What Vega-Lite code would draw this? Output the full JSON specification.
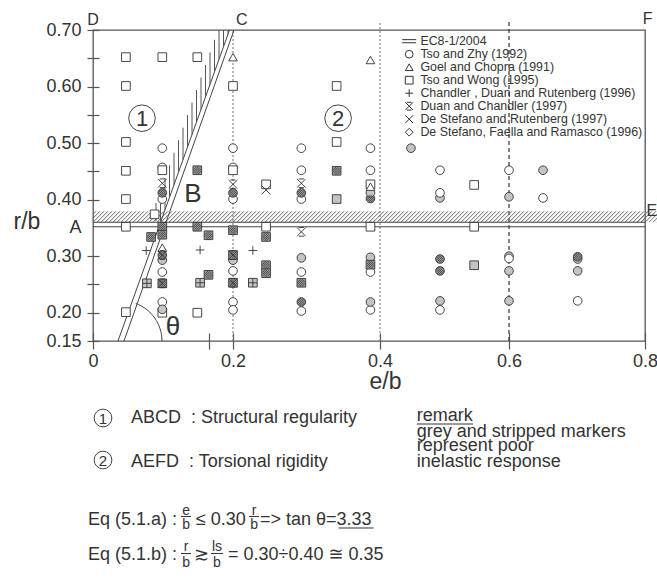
{
  "$schema": "https://vega.github.io/schema/vega-lite/v6.json",
  "width": 552,
  "height": 311,
  "autosize": {"type": "none"},
  "padding": {"left": 93, "top": 30, "right": 12, "bottom": 238},
  "background": "white",
  "config": {
    "view": {"stroke": "#555", "strokeWidth": 1.3},
    "text": {"font": "Liberation Sans", "color": "#333"}
  },
  "datasets": {
    "pts": [
      {"e":0.047,"r":0.652,"s":"TW","f":"o"},
      {"e":0.047,"r":0.601,"s":"TW","f":"o"},
      {"e":0.047,"r":0.502,"s":"TW","f":"o"},
      {"e":0.047,"r":0.451,"s":"TW","f":"o"},
      {"e":0.047,"r":0.401,"s":"TW","f":"o"},
      {"e":0.047,"r":0.352,"s":"TW","f":"o"},
      {"e":0.047,"r":0.201,"s":"TW","f":"o"},
      {"e":0.088,"r":0.374,"s":"TW","f":"o"},
      {"e":0.083,"r":0.334,"s":"TW","f":"h"},
      {"e":0.076,"r":0.31,"s":"CDR","f":"o"},
      {"e":0.077,"r":0.252,"s":"TW","f":"g"},
      {"e":0.077,"r":0.252,"s":"CDR","f":"o"},
      {"e":0.099,"r":0.652,"s":"TW","f":"o"},
      {"e":0.099,"r":0.491,"s":"TZ","f":"o"},
      {"e":0.099,"r":0.457,"s":"TZ","f":"o"},
      {"e":0.099,"r":0.452,"s":"TW","f":"o"},
      {"e":0.099,"r":0.429,"s":"DC","f":"o"},
      {"e":0.099,"r":0.401,"s":"TZ","f":"o"},
      {"e":0.099,"r":0.412,"s":"TZ","f":"h"},
      {"e":0.099,"r":0.352,"s":"TW","f":"h"},
      {"e":0.099,"r":0.338,"s":"TW","f":"h"},
      {"e":0.099,"r":0.315,"s":"GC","f":"o"},
      {"e":0.099,"r":0.293,"s":"TZ","f":"g"},
      {"e":0.099,"r":0.302,"s":"TZ","f":"h"},
      {"e":0.099,"r":0.302,"s":"DC","f":"o"},
      {"e":0.099,"r":0.272,"s":"TZ","f":"o"},
      {"e":0.099,"r":0.252,"s":"TW","f":"h"},
      {"e":0.099,"r":0.252,"s":"DC","f":"o"},
      {"e":0.099,"r":0.219,"s":"TZ","f":"o"},
      {"e":0.099,"r":0.2,"s":"TW","f":"o"},
      {"e":0.099,"r":0.206,"s":"TZ","f":"g"},
      {"e":0.149,"r":0.652,"s":"TW","f":"o"},
      {"e":0.149,"r":0.452,"s":"TW","f":"h"},
      {"e":0.149,"r":0.352,"s":"TW","f":"h"},
      {"e":0.165,"r":0.337,"s":"TW","f":"h"},
      {"e":0.153,"r":0.311,"s":"CDR","f":"o"},
      {"e":0.165,"r":0.267,"s":"TW","f":"h"},
      {"e":0.153,"r":0.253,"s":"TW","f":"g"},
      {"e":0.153,"r":0.253,"s":"CDR","f":"o"},
      {"e":0.149,"r":0.2,"s":"TW","f":"o"},
      {"e":0.2,"r":0.652,"s":"GC","f":"o"},
      {"e":0.2,"r":0.601,"s":"TW","f":"o"},
      {"e":0.2,"r":0.491,"s":"TZ","f":"o"},
      {"e":0.2,"r":0.457,"s":"TZ","f":"o"},
      {"e":0.2,"r":0.452,"s":"TW","f":"o"},
      {"e":0.2,"r":0.427,"s":"DC","f":"o"},
      {"e":0.2,"r":0.401,"s":"TZ","f":"o"},
      {"e":0.2,"r":0.412,"s":"TZ","f":"h"},
      {"e":0.2,"r":0.346,"s":"TW","f":"h"},
      {"e":0.2,"r":0.293,"s":"TZ","f":"g"},
      {"e":0.2,"r":0.302,"s":"TW","f":"h"},
      {"e":0.2,"r":0.302,"s":"DC","f":"o"},
      {"e":0.2,"r":0.274,"s":"TZ","f":"o"},
      {"e":0.2,"r":0.253,"s":"TW","f":"h"},
      {"e":0.2,"r":0.253,"s":"DC","f":"o"},
      {"e":0.2,"r":0.219,"s":"TZ","f":"o"},
      {"e":0.2,"r":0.205,"s":"TZ","f":"o"},
      {"e":0.227,"r":0.31,"s":"CDR","f":"o"},
      {"e":0.227,"r":0.253,"s":"TW","f":"g"},
      {"e":0.227,"r":0.253,"s":"CDR","f":"o"},
      {"e":0.245,"r":0.427,"s":"TW","f":"o"},
      {"e":0.245,"r":0.417,"s":"DR","f":"o"},
      {"e":0.245,"r":0.352,"s":"TW","f":"o"},
      {"e":0.245,"r":0.334,"s":"TW","f":"h"},
      {"e":0.245,"r":0.284,"s":"TW","f":"h"},
      {"e":0.245,"r":0.27,"s":"TW","f":"h"},
      {"e":0.293,"r":0.491,"s":"TZ","f":"o"},
      {"e":0.293,"r":0.452,"s":"TZ","f":"o"},
      {"e":0.293,"r":0.429,"s":"DC","f":"o"},
      {"e":0.293,"r":0.401,"s":"TZ","f":"o"},
      {"e":0.293,"r":0.412,"s":"TZ","f":"h"},
      {"e":0.293,"r":0.343,"s":"DC","f":"o"},
      {"e":0.293,"r":0.297,"s":"TZ","f":"g"},
      {"e":0.293,"r":0.272,"s":"TZ","f":"o"},
      {"e":0.293,"r":0.253,"s":"TW","f":"h"},
      {"e":0.293,"r":0.203,"s":"TZ","f":"o"},
      {"e":0.293,"r":0.219,"s":"TZ","f":"h"},
      {"e":0.341,"r":0.601,"s":"TW","f":"o"},
      {"e":0.341,"r":0.502,"s":"TW","f":"o"},
      {"e":0.341,"r":0.451,"s":"TW","f":"h"},
      {"e":0.341,"r":0.401,"s":"TW","f":"g"},
      {"e":0.387,"r":0.647,"s":"GC","f":"o"},
      {"e":0.387,"r":0.491,"s":"TZ","f":"o"},
      {"e":0.387,"r":0.452,"s":"TZ","f":"o"},
      {"e":0.387,"r":0.402,"s":"TZ","f":"h"},
      {"e":0.387,"r":0.412,"s":"TZ","f":"g"},
      {"e":0.387,"r":0.427,"s":"TW","f":"o"},
      {"e":0.387,"r":0.423,"s":"GC","f":"o"},
      {"e":0.387,"r":0.352,"s":"TW","f":"o"},
      {"e":0.387,"r":0.298,"s":"TZ","f":"g"},
      {"e":0.387,"r":0.272,"s":"TZ","f":"o"},
      {"e":0.387,"r":0.285,"s":"TW","f":"h"},
      {"e":0.387,"r":0.205,"s":"TZ","f":"o"},
      {"e":0.387,"r":0.219,"s":"TZ","f":"g"},
      {"e":0.448,"r":0.491,"s":"TZ","f":"g"},
      {"e":0.493,"r":0.452,"s":"TZ","f":"o"},
      {"e":0.493,"r":0.403,"s":"TZ","f":"g"},
      {"e":0.493,"r":0.412,"s":"TZ","f":"o"},
      {"e":0.493,"r":0.295,"s":"TZ","f":"h"},
      {"e":0.493,"r":0.274,"s":"TZ","f":"h"},
      {"e":0.493,"r":0.205,"s":"TZ","f":"o"},
      {"e":0.493,"r":0.221,"s":"TZ","f":"g"},
      {"e":0.546,"r":0.426,"s":"TW","f":"o"},
      {"e":0.546,"r":0.352,"s":"TW","f":"o"},
      {"e":0.546,"r":0.284,"s":"TW","f":"g"},
      {"e":0.6,"r":0.452,"s":"TZ","f":"o"},
      {"e":0.6,"r":0.405,"s":"TZ","f":"g"},
      {"e":0.6,"r":0.3,"s":"TZ","f":"g"},
      {"e":0.6,"r":0.296,"s":"TZ","f":"o"},
      {"e":0.6,"r":0.274,"s":"TZ","f":"g"},
      {"e":0.6,"r":0.221,"s":"TZ","f":"g"},
      {"e":0.65,"r":0.452,"s":"TZ","f":"g"},
      {"e":0.65,"r":0.403,"s":"TZ","f":"o"},
      {"e":0.701,"r":0.295,"s":"TZ","f":"g"},
      {"e":0.701,"r":0.299,"s":"TZ","f":"h"},
      {"e":0.701,"r":0.274,"s":"TZ","f":"g"},
      {"e":0.701,"r":0.221,"s":"TZ","f":"o"}
    ]
  },
  "encoding": {
    "x": {
      "field": "e", "type": "quantitative",
      "scale": {"domain": [0, 0.2, 0.4, 0.6, 0.8], "range": [0, 140, 287, 416, 552], "nice": false, "zero": false},
      "axis": {
        "title": "e/b", "values": [0, 0.166, 0.2, 0.4, 0.6, 0.8],
        "labelExpr": "datum.value == 0 ? '0' : (datum.value < 0.19 ? '' : format(datum.value, '.1f'))",
        "domain": false, "offset": -8, "tickSize": 16, "tickColor": "#555", "tickWidth": 1.2,
        "labelPadding": 3, "labelFont": "Liberation Sans", "labelFontSize": 18, "labelColor": "#333",
        "labelFlush": false, "labelOverlap": false, "grid": false,
        "titleFont": "Liberation Sans", "titleFontSize": 23, "titleFontWeight": "normal", "titleColor": "#333",
        "titleX": 292, "titleY": 55, "titleBaseline": "alphabetic", "titleAlign": "center"
      }
    },
    "y": {
      "field": "r", "type": "quantitative",
      "scale": {"domain": [0.15, 0.7], "nice": false, "zero": false},
      "axis": {
        "title": "r/b", "values": [0.15, 0.2, 0.25, 0.3, 0.35, 0.4, 0.45, 0.5, 0.55, 0.6, 0.65, 0.7],
        "labelExpr": "datum.value == 0.35 ? 'A' : ((round(datum.value*100) % 10 == 5 && datum.value > 0.16) ? '' : format(datum.value, '.2f'))",
        "tickOpacity": {"condition": {"test": "datum.value == 0.35", "value": 0}, "value": 1},
        "domain": false, "offset": -6, "tickSize": 12, "tickColor": "#555", "tickWidth": 1.2,
        "labelPadding": 6, "labelFont": "Liberation Sans", "labelFontSize": 18, "labelColor": "#333",
        "labelFlush": false, "labelOverlap": false, "grid": false,
        "titleAngle": 0, "titleAlign": "left", "titleBaseline": "alphabetic", "titleX": -86, "titleY": 198,
        "titleFont": "Liberation Sans", "titleFontSize": 23, "titleFontWeight": "normal", "titleColor": "#333"
      }
    }
  },
  "layer": [
    {
      "data": {"values": [{"e":0.2,"r":0.15,"r2":0.7},{"e":0.4,"r":0.15,"r2":0.715}]},
      "mark": {"type": "rule", "color": "#888", "strokeDash": [2, 2], "strokeWidth": 1.2},
      "encoding": {"y2": {"field": "r2"}}
    },
    {
      "data": {"values": [{"e":0.6,"r":0.15,"r2":0.715}]},
      "mark": {"type": "rule", "color": "#333", "strokeDash": [4, 3], "strokeWidth": 1.2},
      "encoding": {"y2": {"field": "r2"}}
    },
    {
      "data": {"values": [{"e":0,"r":0.36}]},
      "mark": {"type": "point", "size": 4, "filled": false, "opacity": 1, "stroke": "#666", "strokeWidth": 1,
        "shape": "M0 -4L7 -11M0 -8L3 -11M0 0l11 -11m-7 11l11 -11m-7 11l11 -11m-7 11l11 -11m-7 11l11 -11m-7 11l11 -11m-7 11l11 -11m-7 11l11 -11m-7 11l11 -11m-7 11l11 -11m-7 11l11 -11m-7 11l11 -11m-7 11l11 -11m-7 11l11 -11m-7 11l11 -11m-7 11l11 -11m-7 11l11 -11m-7 11l11 -11m-7 11l11 -11m-7 11l11 -11m-7 11l11 -11m-7 11l11 -11m-7 11l11 -11m-7 11l11 -11m-7 11l11 -11m-7 11l11 -11m-7 11l11 -11m-7 11l11 -11m-7 11l11 -11m-7 11l11 -11m-7 11l11 -11m-7 11l11 -11m-7 11l11 -11m-7 11l11 -11m-7 11l11 -11m-7 11l11 -11m-7 11l11 -11m-7 11l11 -11m-7 11l11 -11m-7 11l11 -11m-7 11l11 -11m-7 11l11 -11m-7 11l11 -11m-7 11l11 -11m-7 11l11 -11m-7 11l11 -11m-7 11l11 -11m-7 11l11 -11m-7 11l11 -11m-7 11l11 -11m-7 11l11 -11m-7 11l11 -11m-7 11l11 -11m-7 11l11 -11m-7 11l11 -11m-7 11l11 -11m-7 11l11 -11m-7 11l11 -11m-7 11l11 -11m-7 11l11 -11m-7 11l11 -11m-7 11l11 -11m-7 11l11 -11m-7 11l11 -11m-7 11l11 -11m-7 11l11 -11m-7 11l11 -11m-7 11l11 -11m-7 11l11 -11m-7 11l11 -11m-7 11l11 -11m-7 11l11 -11m-7 11l11 -11m-7 11l11 -11m-7 11l11 -11m-7 11l11 -11m-7 11l11 -11m-7 11l11 -11m-7 11l11 -11m-7 11l11 -11m-7 11l11 -11m-7 11l11 -11m-7 11l11 -11m-7 11l11 -11m-7 11l11 -11m-7 11l11 -11m-7 11l11 -11m-7 11l11 -11m-7 11l11 -11m-7 11l11 -11m-7 11l11 -11m-7 11l11 -11m-7 11l11 -11m-7 11l11 -11m-7 11l11 -11m-7 11l11 -11m-7 11l11 -11m-7 11l11 -11m-7 11l11 -11m-7 11l11 -11m-7 11l11 -11m-7 11l11 -11m-7 11l11 -11m-7 11l11 -11m-7 11l11 -11m-7 11l11 -11m-7 11l11 -11m-7 11l11 -11m-7 11l11 -11m-7 11l11 -11m-7 11l11 -11m-7 11l11 -11m-7 11l11 -11m-7 11l11 -11m-7 11l11 -11m-7 11l11 -11m-7 11l11 -11m-7 11l11 -11m-7 11l11 -11m-7 11l11 -11m-7 11l11 -11m-7 11l11 -11m-7 11l11 -11m-7 11l11 -11m-7 11l11 -11m-7 11l11 -11m-7 11l11 -11m-7 11l11 -11m-7 11l11 -11m-7 11l11 -11m-7 11l11 -11m-7 11l11 -11m-7 11l11 -11m-7 11l11 -11m-7 11l11 -11m-7 11l11 -11m-7 11l11 -11m-7 11l11 -11m-7 11l11 -11m-7 11l11 -11m-7 11l11 -11m-7 11l11 -11m-7 11l11 -11m-7 11l11 -11m-7 11l11 -11m-7 11l11 -11M544 0L552 -8M548 0L552 -4"},
      "encoding": {}
    },
    {
      "data": {"values": [{"e":0,"e2":0.8,"r":0.352},{"e":0,"e2":0.8,"r":0.36}]},
      "mark": {"type": "rule", "color": "#444", "strokeWidth": 1},
      "encoding": {"x2": {"field": "e2"}}
    },
    {
      "data": {"values": [{"e":0.0357,"r":0.15,"e2":0.195,"r2":0.7},{"e":0.0443,"r":0.15,"e2":0.2014,"r2":0.7}]},
      "mark": {"type": "rule", "color": "#444", "strokeWidth": 1},
      "encoding": {"x2": {"field": "e2"}, "y2": {"field": "r2"}}
    },
    {
      "data": {"values": [{"e":0.2,"r":0.7}]},
      "mark": {"type": "point", "size": 4, "filled": false, "opacity": 1, "stroke": "#555", "strokeWidth": 1,
        "shape": "M-77 191V173M-72.5 191V160.5M-68 179.9V147.9M-63.5 167.3V135.3M-59 154.8V122.8M-54.5 142.2V110.2M-50 129.7V97.7M-45.5 117.1V85.1M-41 104.6V72.6M-36.5 92V60M-32 79.5V47.5M-27.5 66.9V34.9M-23 54.4V22.4M-18.5 41.8V9.8M-14 29.3V0M-9.5 16.7V0M-5 4.2V0"},
      "encoding": {}
    },
    {
      "data": {"name": "pts"},
      "mark": {"type": "point", "filled": true, "opacity": 1, "stroke": "#333", "strokeWidth": 0.9, "size": 75},
      "encoding": {
        "shape": {
          "field": "s", "type": "nominal",
          "scale": {
            "domain": ["EC8", "TZ", "GC", "TW", "CDR", "DC", "DR", "DFR"],
            "range": ["M-1.8 -0.4L1.8 -0.4M-1.8 0.4L1.8 0.4", "circle", "triangle-up", "square", "M-1 0L1 0M0 -1L0 1", "M-1 -1L1 1M1 -1L-1 1M-0.6 -1L0.6 -1M-0.6 1L0.6 1", "M-1 -1L1 1M1 -1L-1 1", "diamond"]
          },
          "legend": {
            "orient": "none", "legendX": 310, "legendY": 5, "title": null, "padding": 0,
            "labelFont": "Liberation Sans", "labelFontSize": 12.4,
            "labelColor": "#333", "labelOffset": 5, "rowPadding": 0, "labelLimit": 400,
            "symbolSize": 60, "symbolStrokeColor": "#333", "symbolFillColor": "white", "symbolStrokeWidth": 1,
            "labelExpr": "datum.label == 'EC8' ? 'EC8-1/2004' : datum.label == 'TZ' ? 'Tso and Zhy (1992)' : datum.label == 'GC' ? 'Goel and Chopra (1991)' : datum.label == 'TW' ? 'Tso and Wong (1995)' : datum.label == 'CDR' ? 'Chandler , Duan and Rutenberg (1996)' : datum.label == 'DC' ? 'Duan and Chandler (1997)' : datum.label == 'DR' ? 'De Stefano and Rutenberg (1997)' : 'De Stefano, Faella and Ramasco (1996)'"
          }
        },
        "fill": {
          "field": "f", "type": "nominal",
          "scale": {"domain": ["o", "g", "h"], "range": ["white", "#c4c4c4", "#9c9c9c"]},
          "legend": null
        }
      }
    },
    {
      "data": {"name": "pts"},
      "transform": [{"filter": "datum.f == 'h'"}],
      "mark": {"type": "point", "filled": false, "opacity": 1, "stroke": "#333", "strokeWidth": 0.8, "size": 75,
        "shape": "M-0.636 0.636L0.636 -0.636M-0.335 0.835L0.835 -0.335M-0.835 0.335L0.335 -0.835M0.107 0.893L0.894 0.106M-0.894 -0.106L-0.107 -0.893"},
      "encoding": {}
    },
    {
      "data": {"values": [{"e":0.07,"r":0.544},{"e":0.343,"r":0.544}]},
      "mark": {"type": "point", "shape": "circle", "size": 707, "filled": false, "opacity": 1, "stroke": "#444", "strokeWidth": 1},
      "encoding": {}
    },
    {
      "data": {"values": [{"e":0.0143,"r":0.0138},{"e":0.0143,"r":-0.0605}]},
      "mark": {"type": "point", "shape": "circle", "size": 314, "filled": false, "opacity": 1, "stroke": "#444", "strokeWidth": 1},
      "encoding": {}
    },
    {
      "data": {"values": [{"e":0.07,"r":0.544,"t":"1"},{"e":0.343,"r":0.544,"t":"2"}]},
      "mark": {"type": "text", "fontSize": 22, "align": "center", "baseline": "middle", "dy": 1},
      "encoding": {"text": {"field": "t", "type": "nominal"}}
    },
    {
      "data": {"values": [{"e":0.0143,"r":0.0138,"t":"1"},{"e":0.0143,"r":-0.0605,"t":"2"}]},
      "mark": {"type": "text", "fontSize": 15, "align": "center", "baseline": "middle", "dy": 1},
      "encoding": {"text": {"field": "t", "type": "nominal"}}
    },
    {
      "data": {"values": [{"e":0.0,"r":0.718,"t":"D"},{"e":0.212,"r":0.718,"t":"C"},{"e":0.804,"r":0.72,"t":"F"},{"e":0.81,"r":0.38,"t":"E"}]},
      "mark": {"type": "text", "fontSize": 16, "align": "center", "baseline": "middle"},
      "encoding": {"text": {"field": "t", "type": "nominal"}}
    },
    {
      "data": {"values": [{"e":0.1429,"r":0.41,"t":"B"},{"e":0.1143,"r":0.175,"t":"θ"}]},
      "mark": {"type": "text", "fontSize": 26, "align": "center", "baseline": "middle"},
      "encoding": {"text": {"field": "t", "type": "nominal"}}
    },
    {
      "data": {"values": [{"e":0.0414,"r":0.15}]},
      "mark": {"type": "point", "size": 6400, "filled": false, "opacity": 1, "stroke": "#444", "strokeWidth": 1,
        "shape": "M1 0A1 1 0 0 0 0.342 -0.94"},
      "encoding": {}
    },
    {
      "data": {"values": [
        {"e":0.0543,"r":0.0044,"t":"ABCD\u00a0\u00a0: Structural regularity"},
        {"e":0.0543,"r":-0.0729,"t":"AEFD\u00a0\u00a0: Torsional rigidity"},
        {"e":0.457,"r":0.0085,"t":"remark"},
        {"e":0.457,"r":-0.0189,"t":"grey and stripped markers"},
        {"e":0.457,"r":-0.0454,"t":"represent poor"},
        {"e":0.457,"r":-0.072,"t":"inelastic response"},
        {"e":-0.0071,"r":-0.1754,"t":"Eq (5.1.a) :"},
        {"e":0.1471,"r":-0.1754,"t":"≤ 0.30"},
        {"e":0.2367,"r":-0.1754,"t":"=> tan θ=3.33"},
        {"e":-0.0071,"r":-0.2373,"t":"Eq (5.1.b) :"},
        {"e":0.1443,"r":-0.2373,"t":"≳"},
        {"e":0.1929,"r":-0.2373,"t":"= 0.30÷0.40 ≅ 0.35"}
      ]},
      "mark": {"type": "text", "fontSize": 18, "align": "left", "baseline": "alphabetic", "font": "Liberation Sans, DejaVu Sans"},
      "encoding": {"text": {"field": "t", "type": "nominal"}}
    },
    {
      "data": {"values": [
        {"e":0.1329,"r":-0.1577,"t":"e"},{"e":0.1329,"r":-0.1825,"t":"b"},
        {"e":0.2286,"r":-0.1577,"t":"r"},{"e":0.2286,"r":-0.1825,"t":"b"},
        {"e":0.1329,"r":-0.2205,"t":"r"},{"e":0.1329,"r":-0.2497,"t":"b"},
        {"e":0.1771,"r":-0.2205,"t":"ls"},{"e":0.1771,"r":-0.2497,"t":"b"}
      ]},
      "mark": {"type": "text", "fontSize": 14, "align": "center", "baseline": "alphabetic"},
      "encoding": {"text": {"field": "t", "type": "nominal"}}
    },
    {
      "data": {"values": [
        {"e":0.1257,"e2":0.14,"r":-0.1604},
        {"e":0.2218,"e2":0.2354,"r":-0.1604},
        {"e":0.1257,"e2":0.14,"r":-0.2258},
        {"e":0.1686,"e2":0.1857,"r":-0.2258},
        {"e":0.457,"e2":0.5442,"r":0.0032},
        {"e":0.3437,"e2":0.3913,"r":-0.1807}
      ]},
      "mark": {"type": "rule", "color": "#333", "strokeWidth": 1},
      "encoding": {"x2": {"field": "e2"}}
    }
  ]
}
